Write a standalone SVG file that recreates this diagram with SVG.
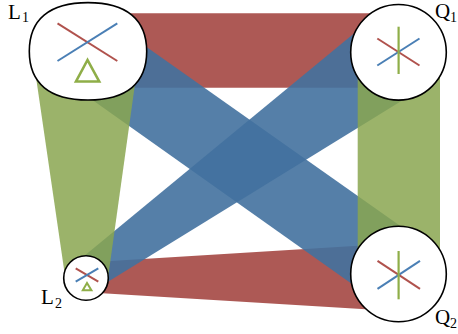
<svg xmlns="http://www.w3.org/2000/svg" width="458" height="334" viewBox="0 0 458 334">
<defs>
<style>
.red{fill:#a9504c;fill-opacity:0.95}
.blue{fill:#43719f;fill-opacity:0.9}
.green{fill:#8aa650;fill-opacity:0.85}
.node{fill:#ffffff;stroke:#000000;stroke-width:1.6}
.lr{stroke:#b0524d;stroke-width:2;fill:none}
.lb{stroke:#4a7fb5;stroke-width:2;fill:none}
.lg{stroke:#8fae48;stroke-width:2.2;fill:none}
.tri{stroke:#8fae48;stroke-width:2.6;fill:none;stroke-linejoin:miter}
.lab{font-family:"Liberation Serif","DejaVu Serif",serif;font-size:21px;fill:#000}
.sub{font-family:"Liberation Serif","DejaVu Serif",serif;font-size:14px;fill:#000}
</style>
</defs>
<g id="connectors">
<polygon class="red" points="88,13.3 398.5,13.3 398.5,87.7 88,87.7"/>
<polygon class="red" points="86,262.5 398.5,243.2 398.5,311.3 86,292.3"/>
<polygon class="blue" points="109.7,21 422,241.2 378.1,302.4 66.3,81.5"/>
<polygon class="blue" points="373.3,17.4 423.7,87.2 94.6,289.9 75.3,263.2"/>
<polygon class="green" points="32.2,51 139.6,51 108,278 65.3,278"/>
<polygon class="green" points="357.7,52.3 440,52.3 440,274 357.7,274"/>
</g>
<g id="L1">
<path class="node" d="M29.3,51.3 C29.3,19.6 49.2,2.6 88,2.6 C126.8,2.6 146.7,19.6 146.7,51.3 C146.7,83 126.8,100 88,100 C49.2,100 29.3,83 29.3,51.3 Z"/>
<line class="lr" x1="57.5" y1="23.3" x2="117.3" y2="61"/>
<line class="lb" x1="57.5" y1="61" x2="117.3" y2="23.3"/>
<polygon class="tri" points="87.5,60 76,81.5 99.2,81.5"/>
<text class="lab" x="8" y="18.5">L</text><text class="sub" x="22" y="22">1</text>
</g>
<g id="Q1">
<circle class="node" cx="398.5" cy="52.3" r="47.8"/>
<line class="lr" x1="377.3" y1="38.5" x2="419.5" y2="65.5"/>
<line class="lb" x1="377.3" y1="65.5" x2="419.5" y2="38.5"/>
<line class="lg" x1="398.6" y1="26.7" x2="398.6" y2="74"/>
<text class="lab" x="435" y="18">Q</text><text class="sub" x="450" y="22">1</text>
</g>
<g id="Q2">
<circle class="node" cx="398.5" cy="274" r="47.8"/>
<line class="lr" x1="377.5" y1="260.8" x2="420" y2="288.8"/>
<line class="lb" x1="377.5" y1="288.8" x2="420" y2="260.8"/>
<line class="lg" x1="398.6" y1="251" x2="398.6" y2="299.3"/>
<text class="lab" x="435" y="324">Q</text><text class="sub" x="450" y="328">2</text>
</g>
<g id="L2">
<circle class="node" cx="86" cy="278" r="22.3"/>
<line class="lr" x1="75.7" y1="268.3" x2="98.3" y2="281.7"/>
<line class="lb" x1="75.7" y1="281.7" x2="98.3" y2="268.3"/>
<polygon class="tri" points="87,283 82.8,290.3 91.4,290.3" style="stroke-width:2"/>
<text class="lab" x="41" y="304">L</text><text class="sub" x="55" y="308">2</text>
</g>
</svg>
